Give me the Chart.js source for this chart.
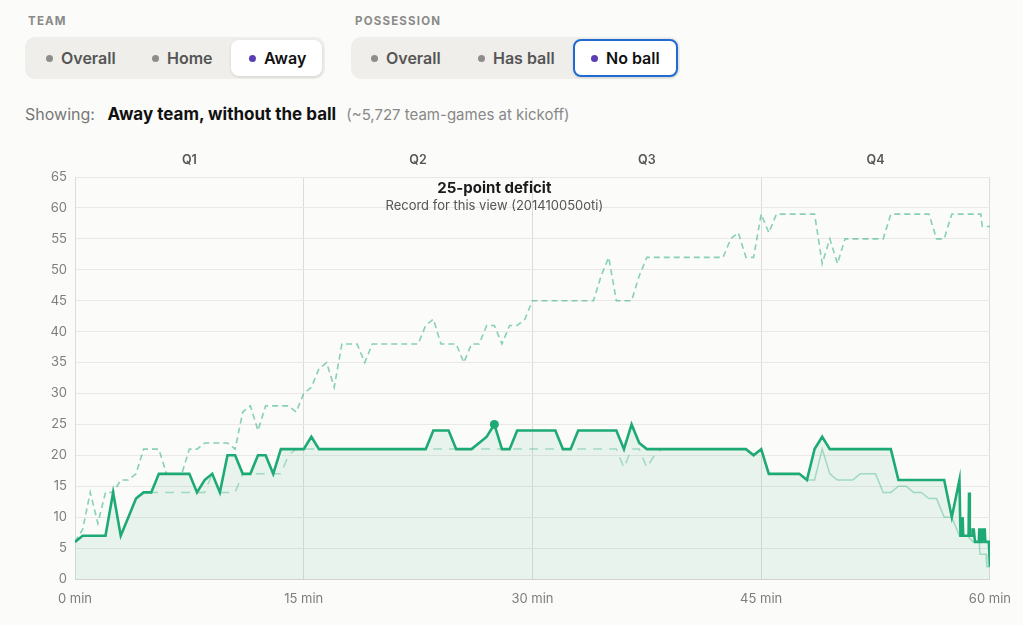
<!DOCTYPE html>
<html>
<head>
<meta charset="utf-8">
<script src="https://cdn.jsdelivr.net/npm/chart.js@4.4.1/dist/chart.umd.min.js"></script>
<style>
  body {
    margin: 0;
    width: 1023px;
    height: 625px;
    overflow: hidden;
    position: relative;
    background: #fbfbf9;
    font-family: Inter, "Helvetica Neue", Arial, sans-serif;
  }
  .group-label {
    position: absolute;
    top: 14px;
    font-size: 11.5px;
    line-height: 14px;
    font-weight: 700;
    letter-spacing: 1.2px;
    color: #8a8a88;
  }
  .seg {
    position: absolute;
    top: 37px;
    height: 42px;
    background: #efeeeb;
    border-radius: 10px;
  }
  .opt {
    position: absolute;
    top: 3px;
    height: 36px;
    display: flex;
    align-items: center;
    font-size: 16px;
    font-weight: 600;
    color: #555;
    box-sizing: border-box;
    border-radius: 8px;
    white-space: nowrap;
  }
  .opt .dot {
    width: 7px;
    height: 7px;
    border-radius: 50%;
    background: #8d8d8b;
    margin-right: 8px;
  }
  .opt.active {
    background: #fff;
    color: #111;
    box-shadow: 0 1px 3px rgba(0, 0, 0, 0.12);
  }
  .opt.active .dot { background: #5a3db5; }
  .opt.focus { border: 2px solid #1f6bd1; }
  .showing {
    position: absolute;
    left: 25px;
    top: 104px;
    line-height: 20px;
    font-size: 16px;
    color: #777;
    white-space: nowrap;
  }
  .showing b { color: #111; font-weight: 700; font-size: 17px; margin-left: 8px; }
  .showing span { font-size: 15px; color: #888; margin-left: 10px; }
  .chart-box {
    position: absolute;
    left: 0;
    top: 140px;
    width: 1023px;
    height: 469px;
  }
</style>
</head>
<body>
<div class="group-label" style="left:28px">TEAM</div>
<div class="seg" style="left:25px;width:300px">
  <div class="opt" style="left:21px"><i class="dot"></i>Overall</div>
  <div class="opt" style="left:127px"><i class="dot"></i>Home</div>
  <div class="opt active" style="left:206px;width:91px;padding-left:18px"><i class="dot"></i>Away</div>
</div>
<div class="group-label" style="left:355px">POSSESSION</div>
<div class="seg" style="left:351px;width:329px">
  <div class="opt" style="left:20px"><i class="dot"></i>Overall</div>
  <div class="opt" style="left:127px"><i class="dot"></i>Has ball</div>
  <div class="opt active focus" style="left:222px;top:2px;height:38px;width:105px;padding-left:16px"><i class="dot"></i>No ball</div>
</div>
<div class="showing">Showing: <b>Away team, without the ball</b><span>(~5,727 team-games at kickoff)</span></div>
<div class="chart-box"><canvas id="deficitChart"></canvas></div>

<script>
"use strict";

// half-minute sample grid, 0 … 60 min
const gridMinutes = Array.from({ length: 121 }, (_, i) => i / 2);

// away team, without the ball: deficit on the grid 0 … 58 min
const awayNoBall = [
  6, 7, 7, 7, 7, 14, 7, 10, 13, 14,
  14, 17, 17, 17, 17, 17, 14, 16, 17, 14,
  20, 20, 17, 17, 20, 20, 17, 21, 21, 21,
  21, 23, 21, 21, 21, 21, 21, 21, 21, 21,
  21, 21, 21, 21, 21, 21, 21, 24, 24, 24,
  21, 21, 21, 22, 23, 25, 21, 21, 24, 24,
  24, 24, 24, 24, 21, 21, 24, 24, 24, 24,
  24, 24, 21, 25, 22, 21, 21, 21, 21, 21,
  21, 21, 21, 21, 21, 21, 21, 21, 21, 20,
  21, 17, 17, 17, 17, 17, 16, 21, 23, 21,
  21, 21, 21, 21, 21, 21, 21, 21, 16, 16,
  16, 16, 16, 16, 16, 10, 16
];
// final two minutes are sampled more finely
const awayNoBallTailMinutes = [58.07, 58.18, 58.21, 58.25, 58.6, 58.63, 58.68, 58.83, 58.86, 58.94, 59.02, 59.27, 59.3, 59.38, 59.42, 59.52, 59.55, 59.66, 59.7, 59.93, 60];
const awayNoBallTail = [7, 7, 10, 7, 7, 14, 7, 7, 8, 8, 6, 6, 8, 8, 6, 6, 8, 8, 6, 6, 2];

// record deficit across all views (dashed), grid 0 … 59 min
const allViewsRecord = [
  6, 8, 14, 9, 14, 14, 16, 16, 17, 21,
  21, 21, 17, 17, 17, 21, 21, 22, 22, 22,
  22, 21, 27, 28, 24, 28, 28, 28, 28, 27,
  30, 31, 34, 35, 31, 38, 38, 38, 35, 38,
  38, 38, 38, 38, 38, 38, 41, 42, 38, 38,
  38, 35, 38, 38, 41, 41, 38, 41, 41, 42,
  45, 45, 45, 45, 45, 45, 45, 45, 45, 49,
  52, 45, 45, 45, 49, 52, 52, 52, 52, 52,
  52, 52, 52, 52, 52, 52, 55, 56, 52, 52,
  59, 56, 59, 59, 59, 59, 59, 59, 51, 55,
  51, 55, 55, 55, 55, 55, 55, 59, 59, 59,
  59, 59, 59, 55, 55, 59, 59, 59, 59
];
const allViewsRecordTailMinutes = [59.4, 59.5, 60];
const allViewsRecordTail = [59, 57, 57];

// comparison view (faint), grid 0 … 58 min
const comparison = [
  6, 7, 7, 7, 7, 14, 7, 10, 13, 14,
  14, 14, 14, 14, 14, 14, 14, 14, 17, 14,
  14, 14, 17, 17, 17, 17, 17, 17, 20, 21,
  21, 21, 21, 21, 21, 21, 21, 21, 21, 21,
  21, 21, 21, 21, 21, 21, 21, 21, 21, 21,
  21, 21, 21, 21, 21, 21, 21, 21, 21, 21,
  21, 21, 21, 21, 21, 21, 21, 21, 21, 21,
  21, 21, 18, 21, 21, 18, 20, 21, 21, 21,
  21, 21, 21, 21, 21, 21, 21, 21, 21, 20,
  21, 17, 17, 17, 17, 17, 16, 16, 21, 17,
  16, 16, 16, 17, 17, 17, 14, 14, 15, 15,
  14, 14, 13, 13, 10, 10, 7
];
const comparisonTailMinutes = [58.5, 58.9, 59.3, 59.35, 59.75, 59.8, 60];
const comparisonTail = [7, 6, 6, 4, 4, 2, 2];

const recordMinute = 27.5;
const recordDeficit = 25;
const recordTitle = "25-point deficit";
const recordNote = "Record for this view (201410050oti)";

const minuteTicks = [0, 15, 30, 45, 60];
const quarterCenters = [7.5, 22.5, 37.5, 52.5];
const quarterLabels = ["Q1", "Q2", "Q3", "Q4"];

const green = "rgb(29, 170, 116)";
const fontFamily = "Inter, 'Helvetica Neue', Arial, sans-serif";

function toPoints(values, tailMinutes, tailValues) {
  const pts = values.map((v, i) => ({ x: gridMinutes[i], y: v }));
  tailMinutes.forEach((m, i) => pts.push({ x: m, y: tailValues[i] }));
  return pts;
}

const recordLabel = {
  id: "recordLabel",
  afterDraw(chart) {
    const { ctx, chartArea } = chart;
    const x = chart.scales.x.getPixelForValue(recordMinute);
    ctx.save();
    ctx.textAlign = "center";
    ctx.textBaseline = "middle";
    ctx.fillStyle = "#1a1a1a";
    ctx.font = "700 15px " + fontFamily;
    ctx.fillText(recordTitle, x, chartArea.top + 11);
    ctx.fillStyle = "#555";
    ctx.font = "400 13px " + fontFamily;
    ctx.fillText(recordNote, x, chartArea.top + 29);
    ctx.restore();
  },
};

const chart = new Chart(document.getElementById("deficitChart"), {
  type: "line",
  data: {
    datasets: [
      {
        label: "Record",
        type: "scatter",
        data: [{ x: recordMinute, y: recordDeficit }],
        pointRadius: 4.5,
        pointBackgroundColor: green,
        pointBorderWidth: 0,
      },
      {
        label: "Away, no ball",
        data: toPoints(awayNoBall, awayNoBallTailMinutes, awayNoBallTail),
        borderColor: green,
        borderWidth: 2.6,
        backgroundColor: "rgba(29, 170, 116, 0.09)",
        fill: "origin",
        pointRadius: 0,
        tension: 0,
        borderJoinStyle: "miter",
      },
      {
        label: "Comparison",
        data: toPoints(comparison, comparisonTailMinutes, comparisonTail),
        borderColor: "rgba(29, 170, 116, 0.35)",
        borderWidth: 1.5,
        fill: false,
        pointRadius: 0,
        tension: 0,
        segment: {
          borderDash: (ctx) => (ctx.p0.parsed.x < 45 ? [9, 7] : []),
        },
      },
      {
        label: "All views record",
        data: toPoints(allViewsRecord, allViewsRecordTailMinutes, allViewsRecordTail),
        borderColor: "rgba(29, 170, 116, 0.52)",
        borderWidth: 1.6,
        borderDash: [6, 4],
        fill: false,
        pointRadius: 0,
        tension: 0,
      },
    ],
  },
  options: {
    responsive: true,
    maintainAspectRatio: false,
    animation: false,
    layout: { padding: { left: 0, right: 32, top: 0, bottom: 0 } },
    plugins: {
      legend: { display: false },
      tooltip: { enabled: false },
      filler: { drawTime: "beforeDatasetsDraw" },
    },
    scales: {
      x: {
        type: "linear",
        position: "bottom",
        min: 0,
        max: 60,
        afterBuildTicks: (axis) => {
          axis.ticks = minuteTicks.map((v) => ({ value: v }));
        },
        afterFit: (scale) => {
          scale.height = 30;
        },
        ticks: {
          callback: (v) => v + " min",
          color: "#7d7d7b",
          font: { size: 13, family: fontFamily },
          padding: 12,
          maxRotation: 0,
        },
        grid: { color: "#dedcd7", drawTicks: false },
        border: { display: false },
      },
      quarters: {
        type: "linear",
        position: "top",
        min: 0,
        max: 60,
        afterBuildTicks: (axis) => {
          axis.ticks = quarterCenters.map((v) => ({ value: v }));
        },
        afterFit: (scale) => {
          scale.height = 37;
        },
        ticks: {
          callback: (v, i) => quarterLabels[i],
          color: "#555",
          font: { size: 12.5, weight: "600", family: fontFamily },
          padding: 9,
          maxRotation: 0,
        },
        grid: { display: false, drawTicks: false },
        border: { display: false },
      },
      y: {
        min: 0,
        max: 65,
        afterFit: (scale) => {
          scale.width = 75;
        },
        ticks: {
          stepSize: 5,
          color: "#7d7d7b",
          font: { size: 13, family: fontFamily },
          padding: 8,
        },
        grid: {
          color: (ctx) => (ctx.tick && ctx.tick.value === 0 ? "#d3d2cd" : "#eae9e5"),
          drawTicks: false,
        },
        border: { color: "#dedcd7" },
      },
    },
  },
  plugins: [recordLabel],
});
</script>
</body>
</html>
